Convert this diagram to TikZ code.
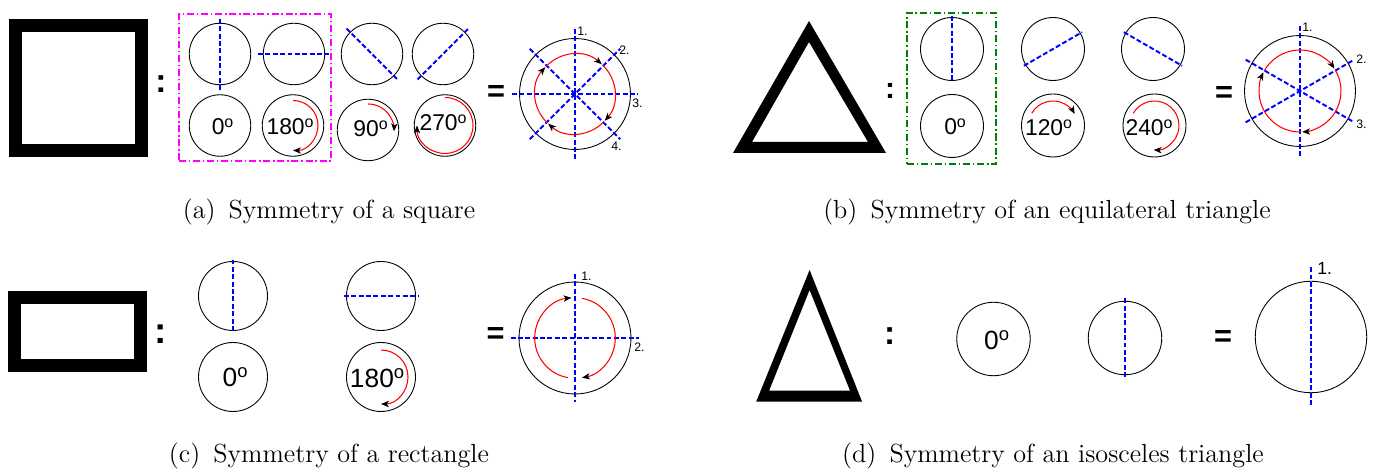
\documentclass[tikz,border=0pt]{standalone}
\usepackage{fontspec}
\newfontfamily\arialfont{Liberation Sans}
\usetikzlibrary{arrows.meta}
\definecolor{boxpink}{RGB}{255,0,255}
\definecolor{boxgreen}{RGB}{0,128,0}
\newcommand{\degtxt}[1]{#1\textsuperscript{o}}

\begin{document}
\begin{tikzpicture}[
    x=0.02cm, y=0.02cm,
    disc/.style={circle, draw, line width=0.5pt, inner sep=0pt, outer sep=0pt, minimum size=#1},
    axis/.style={draw=blue, line width=1.1pt, dash pattern=on 2.8pt off 1.4pt},
    ext/.style={shorten <=-#1, shorten >=-#1},
    turn/.style={red, line width=0.6pt, -{Stealth[black, length=4.5pt, width=3.6pt, inset=1.2pt]}},
    frame/.style={draw, line width=0.26cm, inner sep=0pt, outer sep=0pt},
    group/.style={draw=#1, line width=1.1pt, inner sep=0pt, dash pattern=on 4pt off 1.6pt on 0.8pt off 1.6pt},
    deg/.style={font=\arialfont\fontsize{#1}{#1}\selectfont, inner sep=0pt, anchor=base},
    sym/.style={font=\arialfont\bfseries\fontsize{#1}{#1}\selectfont, inner sep=0pt},
    axnum/.style={font=\arialfont\fontsize{#1}{#1}\selectfont, inner sep=0pt, anchor=west},
    caption/.style={font=\fontsize{14.9}{18}\selectfont, inner sep=0pt, anchor=base}
]
    \useasboundingbox (0,0) rectangle (1374,-475);

    % (a) square
    \node[frame, minimum width=2.52cm, minimum height=2.5cm] (square) at (78.5,-88) {};
    \node[sym=19] (colA) at (161,-84) {:};
    \node[group=boxpink, minimum width=3.04cm, minimum height=2.94cm] (boxA) at (255,-87.5) {};
    \node[disc=1.23cm] (a1) at (220,-54) {};
    \node[disc=1.23cm] (a2) at (294,-54) {};
    \node[disc=1.23cm] (a3) at (372,-54) {};
    \node[disc=1.23cm] (a4) at (443,-54) {};
    \node[disc=1.23cm] (a5) at (220,-125.5) {};
    \node[disc=1.23cm] (a6) at (293,-125.5) {};
    \node[disc=1.23cm] (a7) at (368,-130) {};
    \node[disc=1.23cm] (a8) at (445,-125.5) {};
    \draw[axis, shorten <=-2.5pt, shorten >=-3.5pt] (a1.north) -- (a1.south);
    \draw[axis, ext=3pt] (a2.west) -- (a2.east);
    \draw[axis, ext=3pt] (a3.135) -- (a3.-45);
    \draw[axis, ext=3pt] (a4.-135) -- (a4.45);
    \node[deg=13] (t1) at (223,-135) {\degtxt{0}};
    \node[deg=13] (t2) at (290.5,-135) {\degtxt{180}};
    \node[deg=13] (t3) at (371,-137) {\degtxt{90}};
    \node[deg=13] (t4) at (443.5,-131) {\degtxt{270}};
    \draw[turn] ([shift={(90:25)}]a6.center) arc[start angle=90, end angle=-90, radius=25];
    \draw[turn] ([shift={(90:26)}]a7.center) arc[start angle=90, end angle=-3, radius=26];
    \draw[turn] ([shift={(90:28)}]a8.center) arc[start angle=90, end angle=-180, radius=28];
    \node[sym=17.5] (eqA) at (496,-94) {=};
    \node[disc=2.22cm] (symA) at (575,-94) {};
    \draw[axis, ext=5.4pt] (symA.north) -- (symA.south);
    \draw[axis, ext=4.3pt] (symA.west) -- (symA.east);
    \draw[axis, ext=4.8pt] (symA.135) -- (symA.-45);
    \draw[axis, ext=4.8pt] (symA.-135) -- (symA.45);
    \foreach \s/\e in {136/48, 46/-42, -44/-132, -134/-222}
        \draw[turn] ([shift={(\s:40)}]symA.center) arc[start angle=\s, end angle=\e, radius=40];
    \node[axnum=7] (na1) at (577,-31) {1.};
    \node[axnum=7] (na2) at (619,-50.5) {2.};
    \node[axnum=7] (na3) at (632,-103) {3.};
    \node[axnum=7] (na4) at (611,-146) {4.};
    \node[caption] (capA) at (329,-219) {(a)\enspace Symmetry of a square};

    % (b) equilateral triangle
    \fill[even odd rule] (809,-21) -- (733,-153) -- (886,-153) -- cycle
        (809,-42) -- (752,-142) -- (868,-142) -- cycle;
    \node[sym=17] (colB) at (890,-91) {:};
    \node[group=boxgreen, minimum width=1.78cm, minimum height=3.02cm] (boxB) at (951.5,-88.5) {};
    \node[disc=1.26cm] (b1) at (952,-49) {};
    \node[disc=1.26cm] (b2) at (1053,-49) {};
    \node[disc=1.26cm] (b3) at (1153,-49) {};
    \node[disc=1.26cm] (b4) at (952,-126) {};
    \node[disc=1.26cm] (b5) at (1053,-125.5) {};
    \node[disc=1.26cm] (b6) at (1154.5,-125.5) {};
    \draw[axis, ext=0.8pt] (b1.north) -- (b1.south);
    \draw[axis, ext=1.2pt] (b2.210) -- (b2.30);
    \draw[axis, ext=1.2pt] (b3.150) -- (b3.-30);
    \node[deg=13] (t5) at (955.5,-135) {\degtxt{0}};
    \node[deg=13] (t6) at (1049,-136) {\degtxt{120}};
    \node[deg=13] (t7) at (1149.5,-136) {\degtxt{240}};
    \draw[turn] ([shift={(150:24.5)}]b5.center) arc[start angle=150, end angle=28, radius=24.5];
    \draw[turn] ([shift={(150:24.5)}]b6.center) arc[start angle=150, end angle=-92, radius=24.5];
    \node[sym=17.5] (eqB) at (1224,-94.5) {=};
    \node[disc=2.22cm] (symB) at (1300,-91) {};
    \draw[axis, ext=5.4pt] (symB.north) -- (symB.south);
    \draw[axis, ext=4.1pt] (symB.150) -- (symB.-30);
    \draw[axis, ext=4.1pt] (symB.210) -- (symB.30);
    \foreach \s/\e in {151/33, 31/-87, -89/-207}
        \draw[turn] ([shift={(\s:41)}]symB.center) arc[start angle=\s, end angle=\e, radius=41];
    \node[axnum=7] (nb1) at (1302,-27.5) {1.};
    \node[axnum=7] (nb2) at (1356,-59.5) {2.};
    \node[axnum=7] (nb3) at (1356,-124.5) {3.};
    \node[caption] (capB) at (1047,-219) {(b)\enspace Symmetry of an equilateral triangle};

    % (c) rectangle
    \node[frame, minimum width=2.52cm, minimum height=1.36cm] (rect) at (77.5,-331.5) {};
    \node[sym=21] (colC) at (161,-334.5) {:};
    \node[disc=1.38cm] (c1) at (233,-296) {};
    \node[disc=1.38cm] (c2) at (381,-296) {};
    \node[disc=1.38cm] (c3) at (233,-377) {};
    \node[disc=1.38cm] (c4) at (381,-377) {};
    \draw[axis, ext=1.1pt] (c1.north) -- (c1.south);
    \draw[axis, ext=1.5pt] (c2.west) -- (c2.east);
    \node[deg=15] (t8) at (235.5,-387) {\degtxt{0}};
    \node[deg=15] (t9) at (377.5,-388) {\degtxt{180}};
    \draw[turn] ([shift={(90:27)}]c4.center) arc[start angle=90, end angle=-90, radius=27];
    \node[sym=17.5] (eqC) at (495.5,-335.5) {=};
    \node[disc=2.24cm] (symC) at (575,-338) {};
    \draw[axis, ext=4.5pt] (symC.north) -- (symC.south);
    \draw[axis, ext=4.8pt] (symC.west) -- (symC.east);
    \foreach \s/\e in {80/-80, -100/-265}
        \draw[turn] ([shift={(\s:40.3)}]symC.center) arc[start angle=\s, end angle=\e, radius=40.3];
    \node[axnum=7] (nc1) at (581,-276) {1.};
    \node[axnum=7] (nc2) at (634,-347.5) {2.};
    \node[caption] (capC) at (329,-463) {(c)\enspace Symmetry of a rectangle};

    % (d) isosceles triangle
    \fill[even odd rule] (809.6,-270) -- (756.2,-401.7) -- (862.1,-401.7) -- cycle
        (809.6,-290) -- (769.1,-390.7) -- (850,-390.7) -- cycle;
    \node[sym=19] (colD) at (889.6,-336.5) {:};
    \node[disc=1.47cm] (d1) at (993.5,-339) {};
    \node[disc=1.47cm] (d2) at (1125,-338) {};
    \draw[axis, ext=1.7pt] (d2.north) -- (d2.south);
    \node[deg=15] (t10) at (997,-350) {\degtxt{0}};
    \node[sym=17.5] (eqD) at (1223,-338.5) {=};
    \node[disc=2.23cm] (symD) at (1311,-337) {};
    \draw[axis, ext=8pt] (symD.north) -- (symD.south);
    \node[axnum=10] (nd1) at (1317,-268) {1.};
    \node[caption] (capD) at (1053,-463) {(d)\enspace Symmetry of an isosceles triangle};
\end{tikzpicture}
\end{document}
